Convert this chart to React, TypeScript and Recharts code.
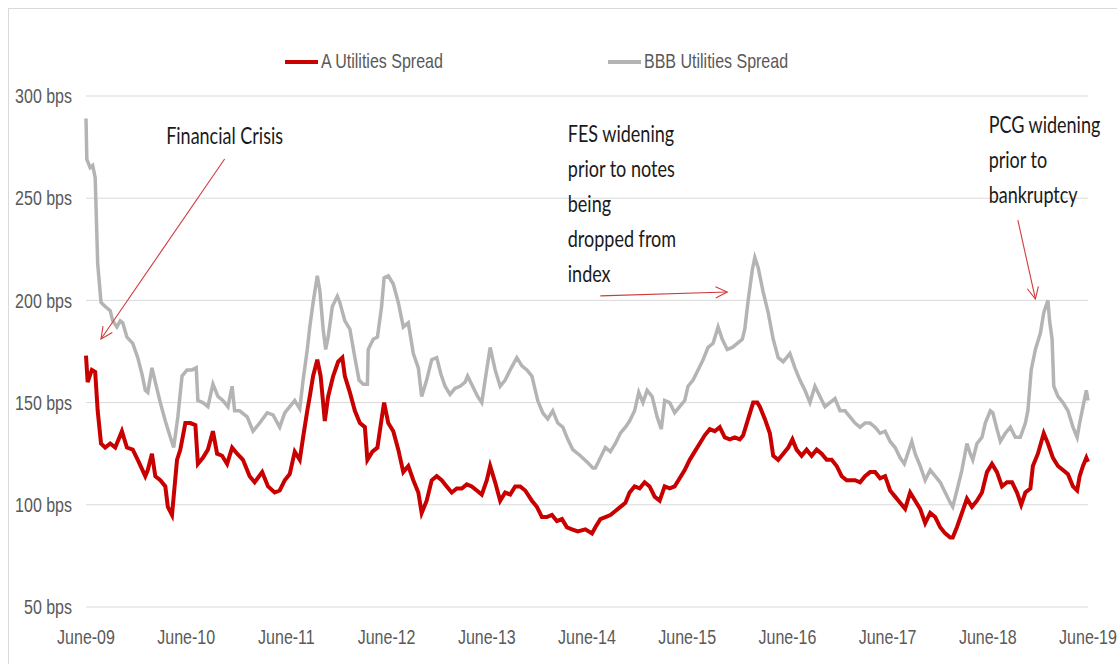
import React from 'react';
import { LineChart, Line, XAxis, YAxis, CartesianGrid, Legend, ReferenceDot, ReferenceLine } from 'recharts';

// x values are months since June 2009
const xTickMonths = [0, 12, 24, 36, 48, 60, 72, 84, 96, 108, 120];
const xTickLabels = ['June-09', 'June-10', 'June-11', 'June-12', 'June-13', 'June-14', 'June-15', 'June-16', 'June-17', 'June-18', 'June-19'];
const yTicks = [50, 100, 150, 200, 250, 300];
const yUnit = 'bps';

const seriesNames = ['A Utilities Spread', 'BBB Utilities Spread'];
const seriesColors = ['#C80000', '#B4B4B4'];

const aMonths = [
  0, 0.2, 0.7, 1.1, 1.4, 1.8, 2.3, 2.9, 3.5, 4.3,
  4.9, 5.6, 6.2, 7.1, 7.4, 7.9, 8.3, 8.9, 9.5, 9.8,
  10.3, 10.5, 10.9, 11.3, 11.9, 12.5, 13.1, 13.4, 14.0, 14.6,
  15.2, 15.7, 16.3, 16.9, 17.5, 18.1, 18.8, 19.6, 20.2, 21.1,
  21.8, 22.6, 23.2, 23.8, 24.4, 25.0, 25.6, 26.0, 26.5, 26.8,
  27.2, 27.7, 28.1, 28.6, 29.0, 29.6, 30.2, 30.7, 31.0, 31.6,
  32.2, 32.8, 33.4, 33.7, 34.3, 34.9, 35.4, 35.7, 36.2, 36.8,
  37.4, 38.0, 38.6, 39.2, 39.8, 40.2, 40.8, 41.4, 42.0, 42.6,
  43.2, 43.8, 44.4, 45.0, 45.6, 46.2, 46.8, 47.4, 48.0, 48.4,
  49.0, 49.6, 50.2, 50.8, 51.4, 52.0, 52.6, 53.4, 54.0, 54.6,
  55.2, 55.8, 56.4, 57.0, 57.6, 58.2, 58.9, 59.8, 60.6, 61.0,
  61.6, 62.2, 62.8, 63.4, 64.0, 64.6, 65.1, 65.7, 66.3, 66.9,
  67.5, 68.1, 68.7, 69.3, 69.9, 70.5, 71.1, 71.7, 72.3, 72.9,
  73.5, 74.1, 74.7, 75.3, 75.9, 76.5, 77.1, 77.7, 78.3, 78.7,
  79.3, 79.9, 80.4, 80.7, 81.3, 81.9, 82.3, 82.9, 83.5, 84.1,
  84.6, 85.1, 85.7, 86.3, 86.9, 87.5, 88.1, 88.7, 89.3, 89.9,
  90.5, 91.1, 91.5, 92.1, 92.7, 93.3, 93.9, 94.5, 95.1, 95.7,
  96.3, 96.9, 97.5, 98.1, 98.7, 99.3, 99.9, 100.5, 101.1, 101.7,
  102.3, 102.9, 103.5, 103.8, 104.3, 104.9, 105.5, 106.1, 106.7, 107.3,
  107.9, 108.5, 109.1, 109.7, 110.3, 110.9, 111.5, 112.0, 112.5, 113.1,
  113.4, 114.0, 114.7, 115.2, 115.8, 116.4, 117.0, 117.6, 118.2, 118.7,
  119.0, 119.4, 119.8, 120.0,
];
const aSpread = [
  173, 160, 166, 165, 146, 130, 128, 130, 128, 136,
  128, 127, 122, 114, 117, 125, 114, 112, 109, 99,
  95, 104, 122, 127, 140, 140, 139, 120, 123, 127,
  136, 125, 124, 120, 128, 125, 122, 114, 111, 116,
  109, 106, 107, 112, 115, 126, 122, 133, 146, 153,
  163, 171, 163, 141, 153, 163, 170, 172, 163, 155,
  146, 140, 138, 122, 126, 128, 142, 150, 140, 136,
  127, 116, 119, 112, 106, 96, 102, 112, 114, 112,
  109, 106, 108, 108, 110, 109, 107, 105, 112, 119,
  111, 102, 106, 105, 109, 109, 107, 102, 99, 94,
  94, 95, 92, 93, 89, 88, 87, 88, 86, 89,
  93, 94, 95, 97, 99, 101, 106, 109, 108, 111,
  109, 104, 102, 109, 108, 109, 113, 117, 122, 126,
  130, 134, 137, 136, 138, 133, 132, 133, 132, 134,
  142, 150, 150, 148, 142, 135, 124, 122, 125, 128,
  132, 127, 124, 127, 124, 127, 125, 122, 122, 119,
  114, 112, 112, 112, 111, 114, 116, 116, 113, 114,
  107, 104, 101, 98, 106, 102, 98, 91, 96, 94,
  89, 86, 84, 84, 89, 96, 103, 99, 102, 106,
  116, 120, 116, 109, 111, 111, 106, 100, 106, 108,
  119, 125, 135, 130, 123, 119, 117, 115, 109, 107,
  114, 119, 123, 121,
];

const bbbMonths = [
  0, 0.1, 0.5, 0.8, 1.1, 1.4, 1.8, 2.3, 2.9, 3.2,
  3.7, 4.1, 4.4, 4.9, 5.6, 6.2, 6.7, 7.1, 7.4, 7.9,
  8.3, 8.9, 9.5, 10.1, 10.5, 11.0, 11.5, 12.1, 12.7, 13.2,
  13.4, 14.0, 14.6, 15.2, 15.8, 16.4, 17.0, 17.5, 17.8, 18.4,
  19.3, 20.0, 20.8, 21.7, 22.4, 23.2, 23.8, 24.4, 25.0, 25.6,
  26.0, 26.5, 26.8, 27.2, 27.7, 28.0, 28.4, 28.7, 29.0, 29.5,
  30.1, 30.4, 31.0, 31.6, 32.2, 32.7, 33.2, 33.7, 33.8, 34.4,
  34.9, 35.4, 35.7, 36.2, 36.8, 37.4, 38.0, 38.6, 39.2, 39.8,
  40.2, 40.8, 41.4, 42.0, 42.5, 43.0, 43.6, 44.2, 44.8, 45.4,
  45.7, 46.3, 46.9, 47.4, 47.8, 48.4, 49.0, 49.6, 50.2, 50.8,
  51.6, 52.2, 52.8, 53.4, 54.1, 54.7, 55.3, 55.9, 56.5, 57.1,
  57.7, 58.3, 59.2, 60.0, 60.7, 61.0, 61.6, 62.2, 62.8, 63.4,
  64.0, 64.6, 65.1, 65.7, 66.2, 66.7, 67.2, 67.8, 68.4, 68.9,
  69.3, 69.9, 70.5, 71.1, 71.7, 72.1, 72.7, 73.3, 73.9, 74.5,
  75.1, 75.7, 76.2, 76.8, 77.4, 78.0, 78.6, 78.9, 79.3, 79.8,
  80.1, 80.5, 81.1, 81.7, 82.3, 82.9, 83.5, 84.3, 84.9, 85.5,
  86.1, 86.7, 87.3, 87.9, 88.5, 89.1, 89.7, 90.3, 90.9, 91.5,
  92.1, 92.7, 93.3, 93.9, 94.5, 95.1, 95.7, 96.3, 96.9, 97.5,
  98.0, 98.4, 98.9, 99.3, 99.9, 100.5, 101.1, 101.7, 102.3, 102.9,
  103.5, 103.8, 104.3, 104.9, 105.5, 105.9, 106.2, 106.7, 107.3, 107.7,
  108.3, 108.6, 109.1, 109.5, 110.1, 110.7, 111.3, 111.9, 112.5, 112.8,
  113.2, 113.7, 114.3, 114.7, 115.2, 115.4, 115.7, 115.9, 116.4, 117.0,
  117.6, 118.2, 118.7, 119.0, 119.4, 119.8, 120.0,
];
const bbbSpread = [
  289, 269, 265, 266, 260, 218, 199, 197, 195, 190,
  187, 190, 189, 182, 179, 172, 164, 156, 155, 167,
  160, 150, 141, 133, 128, 143, 163, 166, 166, 167,
  151, 150, 148, 159, 153, 151, 148, 158, 146, 146,
  143, 136, 140, 145, 144, 138, 145, 148, 151, 147,
  161, 176, 187, 199, 212, 205, 186, 176, 182, 197,
  202, 199, 190, 186, 172, 161, 159, 159, 176, 181,
  182, 197, 211, 212, 208, 199, 187, 189, 174, 167,
  153, 161, 171, 172, 164, 158, 154, 157, 158, 160,
  163, 158, 153, 150, 161, 177, 166, 158, 161, 166,
  172, 168, 166, 163, 151, 145, 142, 146, 140, 138,
  132, 127, 124, 121, 118, 118, 123, 128, 126, 130,
  135, 138, 141, 146, 155, 150, 156, 153, 143, 137,
  151, 150, 145, 148, 151, 158, 161, 166, 171, 177,
  179, 187, 181, 176, 177, 179, 181, 186, 200, 215,
  221, 216, 204, 194, 181, 172, 170, 174, 167, 161,
  156, 150, 158, 153, 148, 150, 152, 146, 146, 143,
  140, 138, 140, 140, 138, 135, 136, 131, 128, 123,
  120, 125, 131, 125, 119, 112, 117, 114, 111, 106,
  101, 99, 107, 117, 130, 125, 122, 130, 133, 140,
  146, 145, 137, 131, 135, 138, 133, 133, 140, 146,
  166, 176, 184, 194, 200, 190, 181, 158, 153, 150,
  146, 138, 133, 140, 148, 156, 151,
];

// annotations (positions in data space: months, bps)
const noteMonths = [9.6, 57.7, 108.1];
const noteSpreads = [276.5, 277.5, 281.9];
const noteLines = [
  ['Financial Crisis'],
  ['FES widening', 'prior to notes', 'being', 'dropped from', 'index'],
  ['PCG widening', 'prior to', 'bankruptcy'],
];
const arrowFromMonths = [16.6, 61.6, 111.6];
const arrowFromSpreads = [269.2, 202.2, 239.3];
const arrowToMonths = [1.8, 76.8, 113.7];
const arrowToSpreads = [181.1, 204.1, 200.7];

const aData = aMonths.map((t, i) => ({ t, a: aSpread[i] }));
const bbbData = bbbMonths.map((t, i) => ({ t, bbb: bbbSpread[i] }));

const K = 1.28; // vertical stretch of the source text
const AXIS_FONT = '"Liberation Sans", Arial, sans-serif';
const NOTE_FONT = 'Lato, "Open Sans", sans-serif';

const YTick = (props: any) => {
  const { x, y, payload } = props;
  return (
    <g transform={`translate(${x},${y}) scale(1,${K})`}>
      <text x={0} y={0} dy="0.355em" textAnchor="end" fill="#595959" fontSize={16} fontFamily={AXIS_FONT}>
        {`${payload.value} ${yUnit}`}
      </text>
    </g>
  );
};

const XTick = (props: any) => {
  const { x, y, payload } = props;
  const idx = xTickMonths.indexOf(payload.value);
  return (
    <g transform={`translate(${x},${y}) scale(1,${K})`}>
      <text x={0} y={0} dy="0.71em" textAnchor="middle" fill="#595959" fontSize={16} fontFamily={AXIS_FONT}>
        {idx >= 0 ? xTickLabels[idx] : ''}
      </text>
    </g>
  );
};

const renderLegend = () => (
  <div style={{ display: 'flex', alignItems: 'center', paddingLeft: 276, height: 26 }}>
    {seriesNames.map((n, i) => (
      <div key={n} style={{ display: 'flex', alignItems: 'center', width: i === 0 ? 323 : 'auto' }}>
        <span style={{ display: 'inline-block', width: 33, height: 4, background: seriesColors[i], marginRight: 3 }} />
        <span
          style={{
            display: 'inline-block',
            fontFamily: AXIS_FONT,
            fontSize: 16,
            color: '#595959',
            transform: `scaleY(${K})`,
            lineHeight: '18px',
          }}
        >
          {n}
        </span>
      </div>
    ))}
  </div>
);

const makeNoteShape = (lines: string[]) => (p: any) => (
  <g>
    {lines.map((s, j) => (
      <text
        key={j}
        transform={`translate(${p.cx},${p.cy + j * 35}) scale(1,${K})`}
        x={0}
        y={0}
        fill="#1a1a1a"
        fontSize={18}
        fontFamily={NOTE_FONT}
      >
        {s}
      </text>
    ))}
  </g>
);

const arrowShape = (p: any) => {
  const { x1, y1, x2, y2 } = p;
  const ang = Math.atan2(y2 - y1, x2 - x1);
  const len = 13;
  const spread = 0.45;
  const hx1 = x2 - len * Math.cos(ang - spread);
  const hy1 = y2 - len * Math.sin(ang - spread);
  const hx2 = x2 - len * Math.cos(ang + spread);
  const hy2 = y2 - len * Math.sin(ang + spread);
  return (
    <g stroke="#D23A3A" strokeWidth={1.1} fill="none">
      <line x1={x1} y1={y1} x2={x2} y2={y2} />
      <polyline points={`${hx1},${hy1} ${x2},${y2} ${hx2},${hy2}`} />
    </g>
  );
};

export default function App() {
  return (
    <div style={{ position: 'relative', width: 1117, height: 664, background: '#fff', overflow: 'hidden' }}>
      <style>{`html, body { margin: 0; padding: 0; overflow: hidden; }`}</style>
      <div
        style={{
          position: 'absolute',
          left: 8,
          top: 8,
          width: 1120,
          height: 670,
          borderTop: '1px solid #D9D9D9',
          borderLeft: '1px solid #D9D9D9',
        }}
      />
      <div style={{ position: 'absolute', left: 9, top: 9 }}>
        <LineChart width={1108} height={650} margin={{ top: 87, right: 29, bottom: 18, left: 0 }}>
          <CartesianGrid horizontal vertical={false} stroke="#D9D9D9" strokeWidth={1} />
          <XAxis
            type="number"
            dataKey="t"
            domain={[0, 120]}
            ticks={xTickMonths}
            interval={0}
            axisLine={false}
            tickLine={false}
            tickSize={0}
            tickMargin={22}
            height={34}
            tick={<XTick />}
            allowDuplicatedCategory={false}
          />
          <YAxis
            type="number"
            domain={[50, 300]}
            ticks={yTicks}
            interval={0}
            axisLine={false}
            tickLine={false}
            tickSize={0}
            tickMargin={14}
            width={77}
            tick={<YTick />}
          />
          <Legend
            layout="horizontal"
            verticalAlign="middle"
            align="center"
            wrapperStyle={{ top: 40, left: 0, width: 1100 }}
            content={renderLegend}
          />
          <Line
            data={bbbData}
            dataKey="bbb"
            name={seriesNames[1]}
            type="linear"
            stroke={seriesColors[1]}
            strokeWidth={3.5}
            dot={false}
            activeDot={false}
            isAnimationActive={false}
          />
          <Line
            data={aData}
            dataKey="a"
            name={seriesNames[0]}
            type="linear"
            stroke={seriesColors[0]}
            strokeWidth={4}
            dot={false}
            activeDot={false}
            isAnimationActive={false}
          />
          {arrowFromMonths.map((t, i) => (
            <ReferenceLine
              key={`arrow-${i}`}
              segment={[
                { x: t, y: arrowFromSpreads[i] },
                { x: arrowToMonths[i], y: arrowToSpreads[i] },
              ]}
              ifOverflow="visible"
              shape={arrowShape}
            />
          ))}
          {noteMonths.map((t, i) => (
            <ReferenceDot
              key={`note-${i}`}
              x={t}
              y={noteSpreads[i]}
              r={0}
              ifOverflow="visible"
              shape={makeNoteShape(noteLines[i])}
            />
          ))}
        </LineChart>
      </div>
    </div>
  );
}
